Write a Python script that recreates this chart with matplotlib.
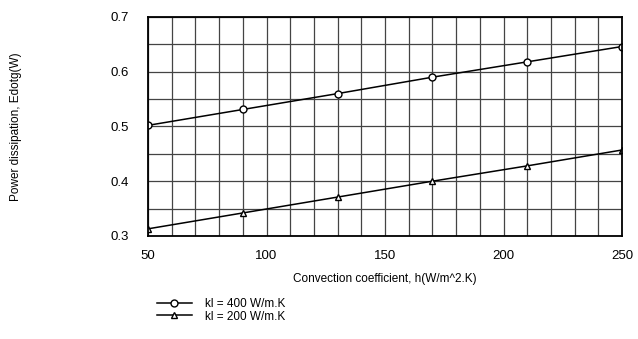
import numpy as np
import matplotlib
matplotlib.use("Agg")
import matplotlib.pyplot as plt

plt.rcParams["font.family"] = ["Liberation Sans", "DejaVu Sans"]

# Data
h = [50, 90, 130, 170, 210, 250]
power_400 = [0.502, 0.531, 0.560, 0.590, 0.618, 0.646]
power_200 = [0.313, 0.342, 0.371, 0.400, 0.428, 0.457]
x_ticks = [50, 100, 150, 200, 250]
y_ticks = [0.3, 0.4, 0.5, 0.6, 0.7]

fig = plt.figure(figsize=(6.38, 3.39), dpi=100)
ax = fig.add_axes([0.232, 0.304, 0.743, 0.646])

ax.plot(h, power_400, color="black", linewidth=1.1, marker="o", markersize=5,
        markerfacecolor="white", markeredgecolor="black", label="kl = 400 W/m.K")
ax.plot(h, power_200, color="black", linewidth=1.1, marker="^", markersize=5,
        markerfacecolor="white", markeredgecolor="black", label="kl = 200 W/m.K")

ax.set_xlim(50, 250)
ax.set_ylim(0.3, 0.7)
ax.set_xticks(x_ticks)
ax.set_yticks(y_ticks)
ax.set_xticks(np.arange(50, 251, 10), minor=True)
ax.set_yticks(np.arange(0.3, 0.701, 0.05), minor=True)
ax.grid(which="both", color="#444444", linewidth=0.9)
ax.set_axisbelow(True)
ax.tick_params(which="both", length=0, labelsize=9.5)
ax.tick_params(axis="x", pad=10)
ax.tick_params(axis="y", pad=14)
for s in ax.spines.values():
    s.set_linewidth(1.3)

ax.set_xlabel("Convection coefficient, h(W/m^2.K)", fontsize=8.5, labelpad=8)
fig.text(0.025, 0.627, "Power dissipation, Edotg(W)", rotation=90,
         fontsize=8.5, ha="center", va="center")

fig.legend(loc="upper left", bbox_to_anchor=(0.238, 0.135), frameon=False,
           fontsize=8.5, handlelength=3.0, handletextpad=1.1,
           labelspacing=0.05, borderaxespad=0)

fig.savefig("out.png", dpi=100, facecolor="white")
